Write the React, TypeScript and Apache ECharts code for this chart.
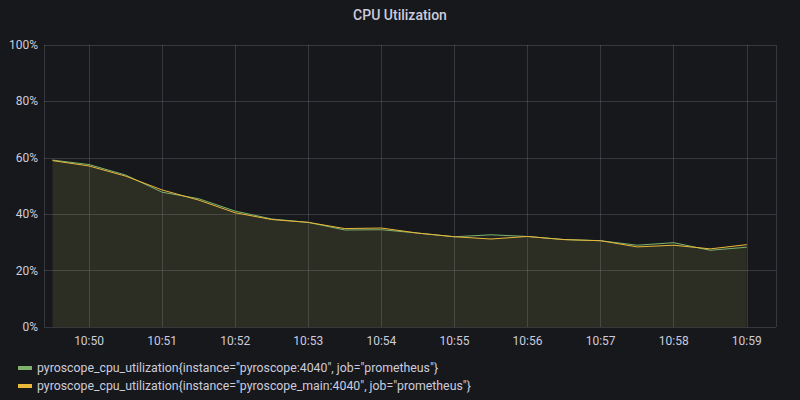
import React, { useEffect, useRef } from "react";
import * as echarts from "echarts";

const startTime = [2023, 0, 1, 10, 49, 30];
const stepSeconds = 30;
const seriesNames = [
  'pyroscope_cpu_utilization{instance="pyroscope:4040", job="prometheus"}',
  'pyroscope_cpu_utilization{instance="pyroscope_main:4040", job="prometheus"}',
];
const greenValues = [59.2, 57.6, 53.9, 47.8, 45.5, 41.1, 38.3, 37.1, 34.4, 34.5, 33.3, 32.0, 32.7, 32.1, 31.0, 30.6, 29.0, 29.9, 27.2, 28.3];
const yellowValues = [59.0, 57.1, 53.5, 48.6, 45.0, 40.5, 38.1, 37.1, 34.9, 35.1, 33.3, 32.0, 31.2, 32.1, 31.0, 30.6, 28.4, 29.0, 27.7, 29.2];
const yTicks = [0, 20, 40, 60, 80, 100];

const t0 = new Date(startTime[0], startTime[1], startTime[2], startTime[3], startTime[4], startTime[5]).getTime();
const toPairs = (vals: number[]) => vals.map((v, i) => [t0 + i * stepSeconds * 1000, v]);

export default function App() {
  const ref = useRef<HTMLDivElement>(null);
  useEffect(() => {
    if (!ref.current) return;
    const chart = echarts.init(ref.current, null, { renderer: "svg" });
    const axisText = { color: "#ccccdc", fontSize: 12, fontFamily: "Roboto" };
    const xMin = t0 - 7 * 1000;
    const xMax = t0 + 9.5 * 60 * 1000 + 24 * 1000;
    chart.setOption({
      animation: false,
      backgroundColor: "#17181c",
      title: {
        text: "CPU Utilization",
        left: "center",
        top: 3,
        textStyle: { color: "#ccccdc", fontSize: 14, fontWeight: 500, fontFamily: "Roboto" },
      },
      legend: {
        orient: "vertical",
        left: 13,
        top: 357,
        itemWidth: 14,
        itemHeight: 4,
        itemGap: 6,
        icon: "rect",
        textStyle: { color: "#ccccdc", fontSize: 12.3, fontFamily: "Roboto" },
        data: seriesNames,
      },
      grid: { left: 44, right: 24, top: 45, bottom: 73, containLabel: false },
      xAxis: {
        type: "time",
        min: xMin,
        max: xMax,
        minInterval: 60000,
        maxInterval: 60000,
        axisLine: { show: false },
        axisTick: { show: false },
        axisLabel: { ...axisText, formatter: "{HH}:{mm}", margin: 8, hideOverlap: false, showMinLabel: false, showMaxLabel: false },
        splitLine: { show: true, lineStyle: { color: "rgba(204,204,220,0.18)", width: 1 } },
      },
      yAxis: {
        type: "value",
        min: 0,
        max: 100,
        interval: 20,
        axisLine: { show: false },
        axisTick: { show: false },
        axisLabel: { ...axisText, formatter: (v: number) => (yTicks.includes(v) ? v + "%" : ""), margin: 6 },
        splitLine: { show: true, lineStyle: { color: "rgba(204,204,220,0.18)", width: 1 } },
      },
      series: [
        {
          name: seriesNames[0],
          type: "line",
          data: toPairs(greenValues),
          showSymbol: false,
          itemStyle: { color: "#7eb26d" },
          lineStyle: { color: "#7eb26d", width: 1 },
          areaStyle: { color: "rgba(126,178,109,0.1)" },
        },
        {
          name: seriesNames[1],
          type: "line",
          data: toPairs(yellowValues),
          showSymbol: false,
          itemStyle: { color: "#eab839" },
          lineStyle: { color: "#eab839", width: 1 },
          areaStyle: { color: "rgba(234,184,57,0.1)" },
        },
      ],
    });
    return () => chart.dispose();
  }, []);
  return <div ref={ref} style={{ width: 800, height: 400, position: "fixed", left: 0, top: 0 }} />;
}
